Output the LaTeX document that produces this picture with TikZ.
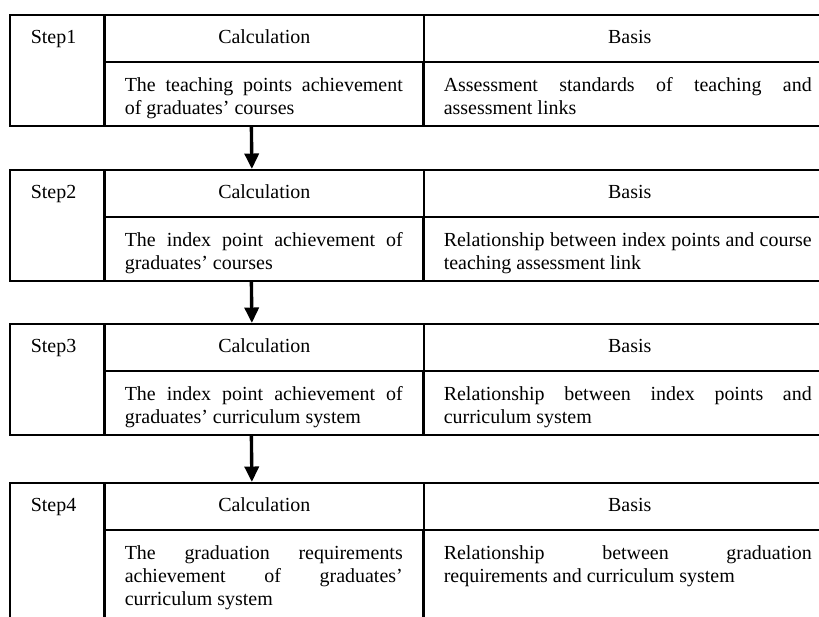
\documentclass[tikz,border=0pt]{standalone}
\usepackage{fontspec}
\setmainfont{Liberation Serif}
\usetikzlibrary{arrows.meta}

\begin{document}
\begin{tikzpicture}[%
every node/.style={rectangle, draw, line width=1.1pt, inner ysep=0pt,
anchor=north west, font=\fontsize{14.2pt}{16.4pt}\selectfont},
stepcell/.style={inner xsep=0.525cm, text width=1.3cm, align=left,
text height=0.725cm, text depth=2.05cm},
calchead/.style={minimum width=7.975cm, align=center,
text height=0.725cm, text depth=0.45cm},
basishead/.style={calchead, minimum width=10.3cm},
calcbody/.style={inner xsep=0.5cm, text width=6.95cm, align=justify,
text height=0.74cm, text depth=0.86cm},
basisbody/.style={calcbody, text width=9.2cm},
arr/.style={-{Triangle[width=10pt,length=11pt]}, line width=2.4pt}]
\useasboundingbox (0,0) rectangle (20.475,15.425);
\clip (0,0) rectangle (20.475,15.425);
% Step1
\node (step1) at (0.225,15.075) [stepcell] {Step1};
\node (calc1) at (2.6,15.075) [calchead] {Calculation};
\node (basis1) at (10.575,15.075) [basishead] {Basis};
\node (calcTxt1) at (2.6,13.9) [calcbody]
{The teaching points achievement \linebreak of graduates' courses};
\node (basisTxt1) at (10.575,13.9) [basisbody]
{Assessment standards of teaching and \linebreak assessment links};
% Step2
\node (step2) at (0.225,11.2) [stepcell] {Step2};
\node (calc2) at (2.6,11.2) [calchead] {Calculation};
\node (basis2) at (10.575,11.2) [basishead] {Basis};
\node (calcTxt2) at (2.6,10.025) [calcbody]
{The index point achievement of \linebreak graduates' courses};
\node (basisTxt2) at (10.575,10.025) [basisbody]
{Relationship between index points and course \linebreak teaching assessment link};
% Step3
\node (step3) at (0.225,7.35) [stepcell] {Step3};
\node (calc3) at (2.6,7.35) [calchead] {Calculation};
\node (basis3) at (10.575,7.35) [basishead] {Basis};
\node (calcTxt3) at (2.6,6.175) [calcbody]
{The index point achievement of \linebreak graduates' curriculum system};
\node (basisTxt3) at (10.575,6.175) [basisbody]
{Relationship between index points and \linebreak curriculum system};
% Step4 (runs off the bottom edge)
\node (step4) at (0.225,3.375) [stepcell, text depth=3.5cm] {Step4};
\node (calc4) at (2.6,3.375) [calchead] {Calculation};
\node (basis4) at (10.575,3.375) [basishead] {Basis};
\node (calcTxt4) at (2.6,2.2) [calcbody, text depth=2.5cm]
{The graduation requirements \linebreak achievement of graduates' \linebreak curriculum system};
\node (basisTxt4) at (10.575,2.2) [basisbody, text depth=2.5cm]
{Relationship between graduation \linebreak requirements and curriculum system};
\draw[arr] ([xshift=-0.31cm]calcTxt1.south) -- ([xshift=-0.31cm]calc2.north);
\draw[arr] ([xshift=-0.31cm]calcTxt2.south) -- ([xshift=-0.31cm]calc3.north);
\draw[arr] ([xshift=-0.31cm]calcTxt3.south) -- ([xshift=-0.31cm]calc4.north);
\end{tikzpicture}
\end{document}
